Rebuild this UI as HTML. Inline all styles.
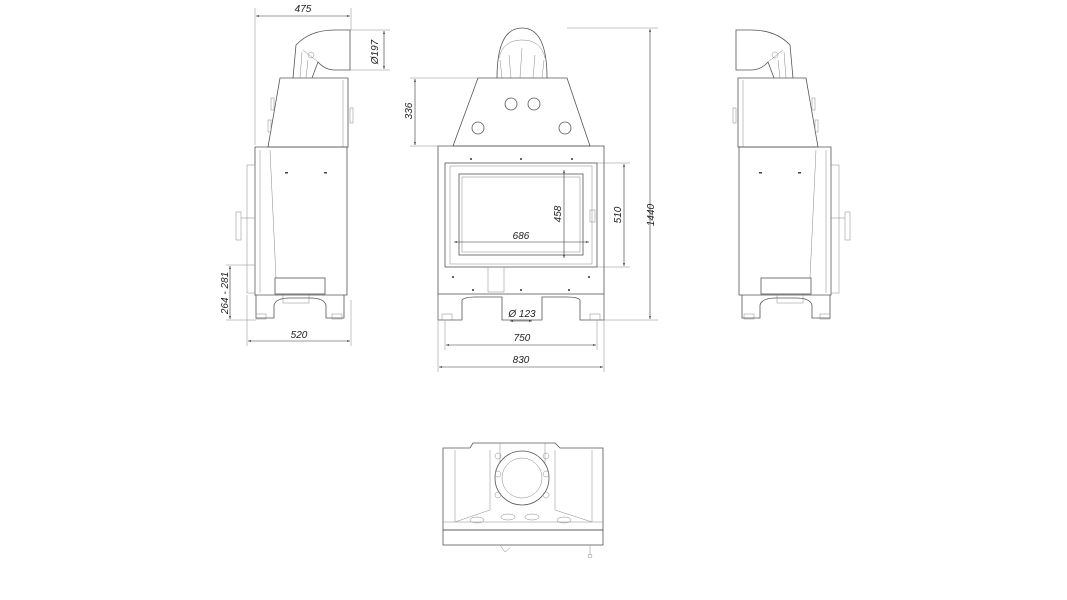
<!DOCTYPE html>
<html><head><meta charset="utf-8"><style>
html,body{margin:0;padding:0;background:#fff;}
svg{display:block;}
text{font-family:"Liberation Sans",sans-serif;font-style:italic;font-size:10px;fill:#222;}
.l{stroke:#555;stroke-width:0.8;fill:none;}
.t{stroke:#888;stroke-width:0.5;fill:none;}
.d{stroke:#333;stroke-width:0.6;fill:none;}
</style></head><body>
<svg width="1067" height="600" viewBox="0 0 1067 600" xmlns="http://www.w3.org/2000/svg">
<defs>
<marker id="a" markerWidth="6" markerHeight="6" refX="5" refY="3" orient="auto-start-reverse"><path d="M0,1.5 L5,3 L0,4.5z" fill="#333"/></marker>
<g id="side">
  <!-- elbow -->
  <path class="l" d="M293,78 L296,45 Q310,30 335,30 L350,30 L350,70 L335,70 Q325,70 318,62 L312,78"/>
  <path class="t" d="M300,78 L302,52 M306,78 L308,60 M303,50 L318,62"/>
  <circle class="t" cx="311" cy="55" r="3"/>
  <!-- upper box -->
  <path class="l" d="M280,78 L348,78 L348,147 L268,147 Z"/>
  <line class="t" x1="343" y1="80" x2="343" y2="147"/>
  <rect class="t" x="271" y="98" width="3" height="12"/>
  <rect class="t" x="268" y="120" width="3" height="12"/>
  <rect class="t" x="350" y="108" width="3" height="15"/>
  <!-- lower body -->
  <path class="l" d="M255,147 L347,147 L347,295 L255,295 Z"/>
  <path class="t" d="M270,150 L276,278 M260,150 L260,293"/>
  <rect class="t" x="247" y="165" width="8" height="128"/>
  <rect class="t" x="236" y="212" width="5" height="28"/>
  <line class="t" x1="241" y1="218" x2="255" y2="218"/>
  <rect class="l" x="275" y="278" width="50" height="16"/>
  <rect class="t" x="283" y="295" width="26" height="8"/>
  <path class="l" d="M256,295 L256,318 L274,318 L274,305 Q276,298 290,298 L310,298 Q324,298 326,305 L326,318 L344,318 L344,295"/>
  <rect class="t" x="256" y="314" width="10" height="5"/>
  <rect class="t" x="332" y="314" width="10" height="5"/>
  <rect x="285" y="172" width="3" height="1.5" fill="#444"/>
  <rect x="324" y="172" width="3" height="1.5" fill="#444"/>
</g>
</defs>

<!-- LEFT SIDE VIEW -->
<use href="#side"/>
<g class="d">
  <line x1="255" y1="8" x2="255" y2="145" class="t"/><line x1="351" y1="8" x2="351" y2="30" class="t"/>
  <line x1="256" y1="16" x2="350" y2="16" marker-start="url(#a)" marker-end="url(#a)"/>
  <line x1="350" y1="30" x2="390" y2="30" class="t"/><line x1="350" y1="70" x2="390" y2="70" class="t"/>
  <line x1="384" y1="31" x2="384" y2="69" marker-start="url(#a)" marker-end="url(#a)"/>
  <line x1="247" y1="295" x2="247" y2="346" class="t"/><line x1="351" y1="300" x2="351" y2="346" class="t"/>
  <line x1="248" y1="341" x2="350" y2="341" marker-start="url(#a)" marker-end="url(#a)"/>
  <line x1="226" y1="265" x2="255" y2="265" class="t"/><line x1="226" y1="320" x2="256" y2="320" class="t"/>
  <line x1="230" y1="266" x2="230" y2="319" marker-start="url(#a)" marker-end="url(#a)"/>
</g>
<text x="303" y="12" text-anchor="middle">475</text>
<text transform="translate(378,52) rotate(-90)" text-anchor="middle">Ø197</text>
<text x="299" y="338" text-anchor="middle">520</text>
<text transform="translate(228,293) rotate(-90)" text-anchor="middle" font-size="9">264 - 281</text>

<!-- RIGHT SIDE VIEW (mirror) -->
<use href="#side" transform="translate(1086,0) scale(-1,1)"/>

<!-- FRONT VIEW -->
<path class="l" d="M497,78 Q497,28 522,28 Q547,28 547,78"/>
<path class="t" d="M499,58 Q503,40 522,40 Q541,40 545,58 M502,78 L500,60 M542,78 L544,60 M522,48 L520,78 M511,78 L509,55 M533,78 L535,55"/>
<path class="l" d="M478,78 L567,78 L590,146 L453,146 Z"/>
<circle class="l" cx="511" cy="104" r="6"/><circle class="l" cx="534" cy="104" r="6"/>
<circle class="l" cx="478" cy="128" r="6"/><circle class="l" cx="565" cy="128" r="6"/>
<rect class="l" x="438" y="146" width="166" height="148"/>
<rect class="l" x="445" y="163" width="152" height="104"/>
<rect class="t" x="450" y="166" width="142" height="98"/>
<rect class="l" x="459" y="174" width="124" height="81"/>
<rect class="t" x="462" y="177" width="118" height="75"/>
<rect class="t" x="590" y="210" width="5" height="12"/>
<rect class="t" x="488" y="267" width="16" height="25"/>
<g fill="#333">
<circle cx="471" cy="159" r="1"/><circle cx="521" cy="159" r="1"/><circle cx="572" cy="159" r="1"/>
<circle cx="453" cy="277" r="1"/><circle cx="589" cy="277" r="1"/>
<circle cx="473" cy="290" r="1"/><circle cx="521" cy="290" r="1"/><circle cx="569" cy="290" r="1"/>
</g>
<path class="l" d="M438,294 L438,320 L462,320 L462,300 Q465,297 475,297 L502,297 L502,320 L542,320 L542,297 L567,297 Q578,297 580,300 L580,320 L604,320 L604,294"/>
<rect class="t" x="442" y="314" width="10" height="6"/><rect class="t" x="590" y="314" width="10" height="6"/>
<g class="d">
  <line x1="567" y1="28" x2="658" y2="28" class="t"/><line x1="600" y1="320" x2="658" y2="320" class="t"/>
  <line x1="650" y1="29" x2="650" y2="319" marker-start="url(#a)" marker-end="url(#a)"/>
  <line x1="597" y1="163" x2="630" y2="163" class="t"/><line x1="597" y1="267" x2="630" y2="267" class="t"/>
  <line x1="624" y1="164" x2="624" y2="266" marker-start="url(#a)" marker-end="url(#a)"/>
  <line x1="410" y1="78" x2="478" y2="78" class="t"/><line x1="410" y1="146" x2="453" y2="146" class="t"/>
  <line x1="415" y1="79" x2="415" y2="145" marker-start="url(#a)" marker-end="url(#a)"/>
  <line x1="445" y1="320" x2="445" y2="350" class="t"/><line x1="597" y1="320" x2="597" y2="350" class="t"/>
  <line x1="446" y1="345" x2="596" y2="345" marker-start="url(#a)" marker-end="url(#a)"/>
  <line x1="438" y1="294" x2="438" y2="372" class="t"/><line x1="604" y1="294" x2="604" y2="372" class="t"/>
  <line x1="439" y1="367" x2="603" y2="367" marker-start="url(#a)" marker-end="url(#a)"/>
  <line x1="510" y1="321" x2="532" y2="321" marker-start="url(#a)" marker-end="url(#a)"/>
  <line x1="454" y1="242" x2="589" y2="242" marker-start="url(#a)" marker-end="url(#a)"/>
  <line x1="564" y1="170" x2="564" y2="258" marker-start="url(#a)" marker-end="url(#a)"/>
</g>
<text transform="translate(654,215) rotate(-90)" text-anchor="middle">1440</text>
<text transform="translate(621,215) rotate(-90)" text-anchor="middle">510</text>
<text transform="translate(412,111) rotate(-90)" text-anchor="middle">336</text>
<text transform="translate(561,214) rotate(-90)" text-anchor="middle">458</text>
<text x="521" y="239" text-anchor="middle">686</text>
<text x="522" y="341" text-anchor="middle">750</text>
<text x="521" y="363" text-anchor="middle">830</text>
<text x="522" y="317" text-anchor="middle">Ø 123</text>

<!-- TOP VIEW -->
<path class="l" d="M443,448 L470,448 L473,443 L555,443 L560,448 L603,448 L603,530 L443,530 Z"/>
<rect class="l" x="443" y="530" width="160" height="15"/>
<path class="t" d="M455,450 L455,522 L490,510 L490,450 M592,450 L592,522 L555,510 L555,450 M443,522 L603,522"/>
<path class="t" d="M500,443 L500,463 M545,443 L545,463 M500,443 L545,443"/>
<circle class="l" cx="522" cy="478" r="27"/>
<circle class="t" cx="522" cy="478" r="20"/>
<g class="t"><circle cx="498" cy="456" r="3"/><circle cx="546" cy="456" r="3"/><circle cx="498" cy="474" r="3"/><circle cx="546" cy="474" r="3"/><circle cx="498" cy="495" r="3"/><circle cx="546" cy="495" r="3"/></g>
<g class="t"><ellipse cx="477" cy="520" rx="7" ry="3"/><ellipse cx="508" cy="517" rx="7" ry="3"/><ellipse cx="532" cy="517" rx="7" ry="3"/><ellipse cx="564" cy="520" rx="7" ry="3"/></g>
<path class="t" d="M500,545 L505,552 L510,548 M590,545 L590,555"/>
<circle class="t" cx="590" cy="556" r="2"/>
</svg>
</body></html>
